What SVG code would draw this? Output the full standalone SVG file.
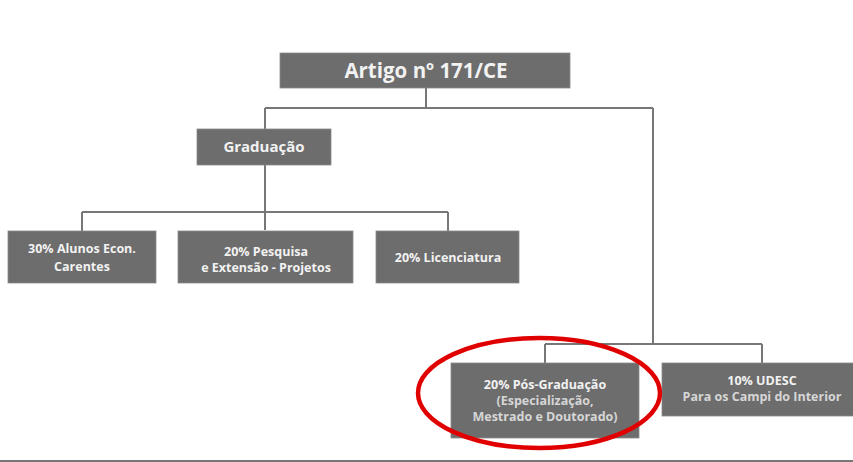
<svg xmlns="http://www.w3.org/2000/svg" width="853" height="462" viewBox="0 0 853 462">
<style>
.box{fill:#6d6d6d;stroke:#8a8a8a;stroke-width:0.8}
.t{font-family:"Open Sans","Noto Sans",sans-serif;font-weight:bold;fill:#f2f2f2;text-anchor:middle}
.s{font-size:12.5px}
.l{fill:#d6d6d6}
.c{fill:none;stroke:#777;stroke-width:2}
</style>
<rect width="853" height="462" fill="#fff"/>
<g id="connectors">
<path class="c" d="M426 88V108M265 108H653M265 108V129M265 165V230M82 212H448M82 212V231M448 212V231M653 108V344M545 344H762M545 344V363M762 344V363"/>
<path d="M0 461H853" stroke="#777" stroke-width="2"/>
</g>
<g id="artigo"><rect class="box" x="280" y="53" width="290" height="35"/><text class="t" x="426" y="78" font-size="20.5">Artigo nº 171/CE</text></g>
<g id="graduacao"><rect class="box" x="197" y="129" width="134" height="36"/><text class="t" x="264" y="151.5" font-size="15">Graduação</text></g>
<g id="alunos"><rect class="box" x="8" y="231" width="148" height="52"/><text class="t s" x="82" y="253">30% Alunos Econ.</text><text class="t s" x="82" y="271">Carentes</text></g>
<g id="pesquisa"><rect class="box" x="178" y="231" width="175" height="52"/><text class="t s" x="266" y="256">20% Pesquisa</text><text class="t s" x="266" y="272">e Extensão - Projetos</text></g>
<g id="licenciatura"><rect class="box" x="376" y="231" width="143" height="52"/><text class="t s" x="448" y="262">20% Licenciatura</text></g>
<g id="pos"><rect class="box" x="451" y="363" width="188" height="75"/><text class="t s" x="545" y="389">20% Pós-Graduação</text><text class="t s l" x="545" y="405">(Especialização,</text><text class="t s l" x="545" y="421">Mestrado e Doutorado)</text></g>
<g id="udesc"><rect class="box" x="662" y="363" width="195" height="53"/><text class="t s" x="762" y="385">10% UDESC</text><text class="t s l" x="762" y="401">Para os Campi do Interior</text></g>
<g id="highlight"><ellipse cx="539" cy="393" rx="121" ry="55" fill="none" stroke="#e00000" stroke-width="4.5"/></g>
</svg>
